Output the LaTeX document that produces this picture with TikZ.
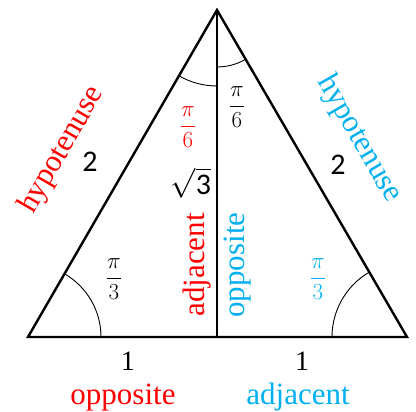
\RequirePackage{fix-cm}
\documentclass[tikz,border=0pt]{standalone}
\usepackage{amsmath}
\usepackage{fontspec}
\setmainfont{Liberation Serif}
\newfontfamily\carlito{Carlito}
\usetikzlibrary{calc}
\definecolor{SideRed}{RGB}{255, 0, 0}
\definecolor{SideBlue}{RGB}{0, 176, 240}

\begin{document}
\begin{tikzpicture}[x=1pt, y=1pt,
    word/.style={inner sep=0pt, font=\fontsize{31}{36}\selectfont},
    num/.style={inner sep=0pt, font=\carlito\fontsize{30}{34}\selectfont},
    base/.style={inner sep=0pt, font=\fontsize{28}{32}\selectfont},
    ang/.style={inner sep=0pt, font=\fontsize{23}{26}\selectfont}]
    \useasboundingbox (0,0) rectangle (416,412);

    % Triangle
    \coordinate (A) at (217,402);
    \coordinate (B) at (28,75);
    \coordinate (C) at (407,75);
    \coordinate (D) at (217,75);
    \draw[line width=2.4pt, line join=miter] (B) -- (A) -- (C) -- cycle;
    \draw[line width=1.1pt] (A) -- (D);

    % Angle marks
    \draw[line width=0.9pt] ($(B)+(73,0)$) arc[start angle=0, end angle=60, radius=73];
    \draw[line width=0.9pt] ($(C)+(-75,0)$) arc[start angle=180, end angle=120, radius=75];
    \draw[line width=0.9pt] ($(A)+(0,-76)$) arc[start angle=270, end angle=240, radius=76];
    \draw[line width=0.9pt] ($(A)+(0,-57)$) arc[start angle=270, end angle=300, radius=57];

    % Left half
    \node[word, text=SideRed, rotate=60] (hypL) at (62,262) {hypotenuse};
    \node[num] (twoL) at (90,250) {2};
    \node[ang] (angL) at (114,133) {$\dfrac{\pi}{3}$};
    \node[ang, text=SideRed] (topL) at (188,285) {$\dfrac{\pi}{6}$};
    \node[num] (rootL) at (191,229) {$\sqrt{\hbox{\carlito 3}}$};
    \node[word, text=SideRed, rotate=90] (adjL) at (197,147) {adjacent};
    \node[base] (oneL) at (128,51) {1};
    \node[word, text=SideRed, anchor=base] (oppL) at (123,7) {opposite};

    % Right half
    \node[word, text=SideBlue, rotate=-60] (hypR) at (359,273) {hypotenuse};
    \node[num] (twoR) at (338,247) {2};
    \node[ang, text=SideBlue] (angR) at (318,133) {$\dfrac{\pi}{3}$};
    \node[ang] (topR) at (237,305) {$\dfrac{\pi}{6}$};
    \node[word, text=SideBlue, rotate=90] (oppR) at (238,147) {opposite};
    \node[base] (oneR) at (302,51) {1};
    \node[word, text=SideBlue, anchor=base] (adjR) at (298,7) {adjacent};
\end{tikzpicture}
\end{document}
